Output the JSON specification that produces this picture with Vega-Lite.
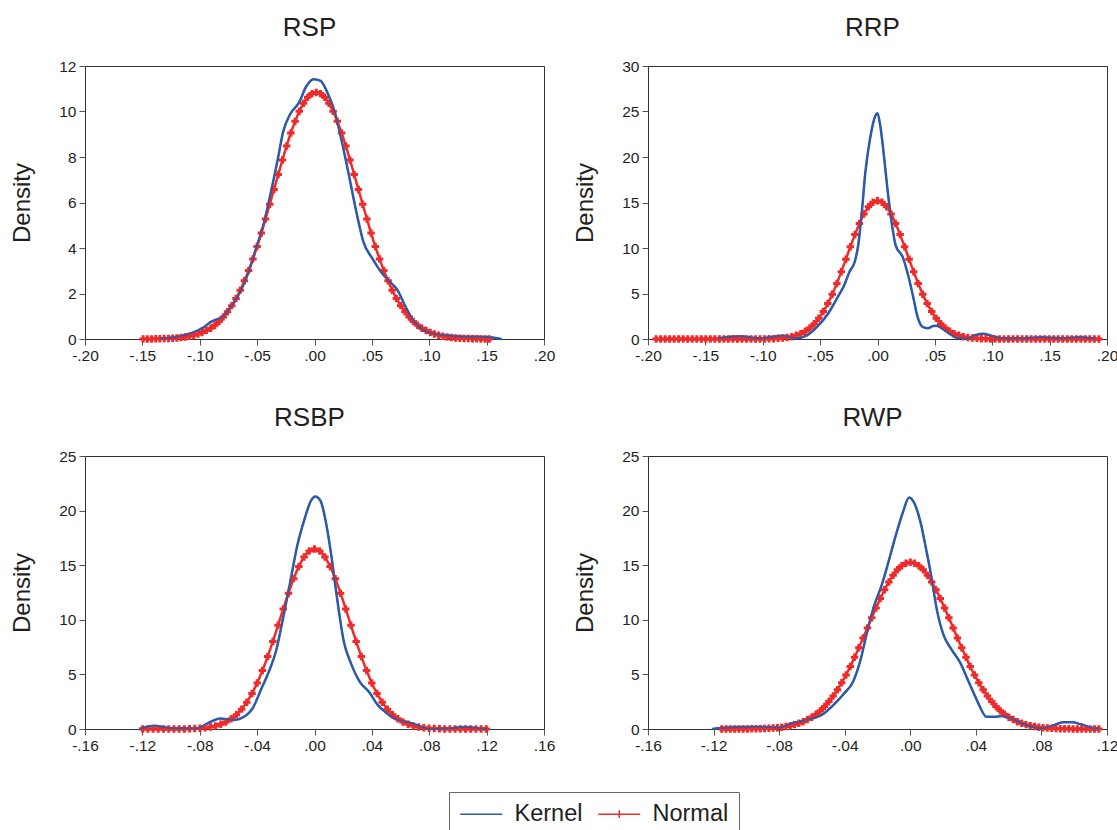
{
"$schema":"https://vega.github.io/schema/vega-lite/v6.json",
"background":"white",
"padding":{"left":10,"top":14,"right":5,"bottom":5},
"config":{
"font":"Liberation Sans",
"view":{"stroke":"#333","strokeWidth":1},
"axis":{"labelFont":"Liberation Sans","labelFontSize":15.5,"labelColor":"#231F20","titleFont":"Liberation Sans","titleFontSize":24,"titleFontWeight":"normal","titleColor":"#231F20","domainColor":"#333","tickColor":"#555","tickSize":6,"labelPadding":3,"grid":false,"labelFlush":false,"labelOverlap":false},
"axisY":{"titlePadding":24},
"title":{"font":"Liberation Sans","fontSize":26,"fontWeight":"normal","color":"#231F20","frame":"group","baseline":"alphabetic","offset":18.5,"dx":-5,"anchor":"middle"}
},
"datasets":{
"rsp":[
{"x":-0.135,"y":0.02,"s":"Kernel"},{"x":-0.12,"y":0.1,"s":"Kernel"},{"x":-0.105,"y":0.3,"s":"Kernel"},{"x":-0.097,"y":0.5,"s":"Kernel"},{"x":-0.09,"y":0.76,"s":"Kernel"},{"x":-0.087,"y":0.83,"s":"Kernel"},{"x":-0.08,"y":0.98,"s":"Kernel"},{"x":-0.074,"y":1.34,"s":"Kernel"},{"x":-0.068,"y":1.78,"s":"Kernel"},{"x":-0.062,"y":2.37,"s":"Kernel"},{"x":-0.0555,"y":3.24,"s":"Kernel"},{"x":-0.051,"y":3.97,"s":"Kernel"},{"x":-0.0446,"y":5.0,"s":"Kernel"},{"x":-0.038,"y":6.45,"s":"Kernel"},{"x":-0.032,"y":7.9,"s":"Kernel"},{"x":-0.0275,"y":9.08,"s":"Kernel"},{"x":-0.021,"y":9.9,"s":"Kernel"},{"x":-0.0134,"y":10.4,"s":"Kernel"},{"x":-0.0072,"y":11.1,"s":"Kernel"},{"x":-0.001,"y":11.42,"s":"Kernel"},{"x":0.0053,"y":11.35,"s":"Kernel"},{"x":0.0115,"y":10.8,"s":"Kernel"},{"x":0.0178,"y":9.95,"s":"Kernel"},{"x":0.024,"y":8.64,"s":"Kernel"},{"x":0.03,"y":7.2,"s":"Kernel"},{"x":0.0365,"y":5.58,"s":"Kernel"},{"x":0.0427,"y":4.26,"s":"Kernel"},{"x":0.0505,"y":3.53,"s":"Kernel"},{"x":0.058,"y":2.95,"s":"Kernel"},{"x":0.066,"y":2.5,"s":"Kernel"},{"x":0.0724,"y":2.15,"s":"Kernel"},{"x":0.0786,"y":1.49,"s":"Kernel"},{"x":0.085,"y":0.9,"s":"Kernel"},{"x":0.0927,"y":0.47,"s":"Kernel"},{"x":0.1,"y":0.28,"s":"Kernel"},{"x":0.116,"y":0.15,"s":"Kernel"},{"x":0.132,"y":0.1,"s":"Kernel"},{"x":0.15,"y":0.09,"s":"Kernel"},{"x":0.163,"y":0.0,"s":"Kernel"},
{"x":-0.1494,"y":0.002,"s":"Normal"},{"x":-0.1457,"y":0.004,"s":"Normal"},{"x":-0.142,"y":0.005,"s":"Normal"},{"x":-0.1383,"y":0.008,"s":"Normal"},{"x":-0.1347,"y":0.011,"s":"Normal"},{"x":-0.131,"y":0.017,"s":"Normal"},{"x":-0.1273,"y":0.024,"s":"Normal"},{"x":-0.1236,"y":0.033,"s":"Normal"},{"x":-0.1199,"y":0.047,"s":"Normal"},{"x":-0.1163,"y":0.065,"s":"Normal"},{"x":-0.1126,"y":0.089,"s":"Normal"},{"x":-0.1089,"y":0.12,"s":"Normal"},{"x":-0.1052,"y":0.162,"s":"Normal"},{"x":-0.1015,"y":0.215,"s":"Normal"},{"x":-0.0979,"y":0.283,"s":"Normal"},{"x":-0.0942,"y":0.369,"s":"Normal"},{"x":-0.0905,"y":0.476,"s":"Normal"},{"x":-0.0868,"y":0.608,"s":"Normal"},{"x":-0.0831,"y":0.77,"s":"Normal"},{"x":-0.0795,"y":0.964,"s":"Normal"},{"x":-0.0758,"y":1.195,"s":"Normal"},{"x":-0.0721,"y":1.467,"s":"Normal"},{"x":-0.0684,"y":1.783,"s":"Normal"},{"x":-0.0647,"y":2.145,"s":"Normal"},{"x":-0.0611,"y":2.556,"s":"Normal"},{"x":-0.0574,"y":3.014,"s":"Normal"},{"x":-0.0537,"y":3.519,"s":"Normal"},{"x":-0.05,"y":4.068,"s":"Normal"},{"x":-0.0463,"y":4.656,"s":"Normal"},{"x":-0.0427,"y":5.276,"s":"Normal"},{"x":-0.039,"y":5.919,"s":"Normal"},{"x":-0.0353,"y":6.575,"s":"Normal"},{"x":-0.0316,"y":7.23,"s":"Normal"},{"x":-0.0279,"y":7.872,"s":"Normal"},{"x":-0.0243,"y":8.485,"s":"Normal"},{"x":-0.0206,"y":9.054,"s":"Normal"},{"x":-0.0169,"y":9.566,"s":"Normal"},{"x":-0.0132,"y":10.007,"s":"Normal"},{"x":-0.0095,"y":10.363,"s":"Normal"},{"x":-0.0059,"y":10.625,"s":"Normal"},{"x":-0.0022,"y":10.786,"s":"Normal"},{"x":0.0015,"y":10.84,"s":"Normal"},{"x":0.0052,"y":10.786,"s":"Normal"},{"x":0.0089,"y":10.625,"s":"Normal"},{"x":0.0125,"y":10.363,"s":"Normal"},{"x":0.0162,"y":10.007,"s":"Normal"},{"x":0.0199,"y":9.566,"s":"Normal"},{"x":0.0236,"y":9.054,"s":"Normal"},{"x":0.0273,"y":8.485,"s":"Normal"},{"x":0.0309,"y":7.872,"s":"Normal"},{"x":0.0346,"y":7.23,"s":"Normal"},{"x":0.0383,"y":6.575,"s":"Normal"},{"x":0.042,"y":5.919,"s":"Normal"},{"x":0.0457,"y":5.276,"s":"Normal"},{"x":0.0493,"y":4.656,"s":"Normal"},{"x":0.053,"y":4.068,"s":"Normal"},{"x":0.0567,"y":3.519,"s":"Normal"},{"x":0.0604,"y":3.014,"s":"Normal"},{"x":0.0641,"y":2.556,"s":"Normal"},{"x":0.0677,"y":2.145,"s":"Normal"},{"x":0.0714,"y":1.783,"s":"Normal"},{"x":0.0751,"y":1.467,"s":"Normal"},{"x":0.0788,"y":1.195,"s":"Normal"},{"x":0.0825,"y":0.964,"s":"Normal"},{"x":0.0861,"y":0.77,"s":"Normal"},{"x":0.0898,"y":0.608,"s":"Normal"},{"x":0.0935,"y":0.476,"s":"Normal"},{"x":0.0972,"y":0.369,"s":"Normal"},{"x":0.1009,"y":0.283,"s":"Normal"},{"x":0.1045,"y":0.215,"s":"Normal"},{"x":0.1082,"y":0.162,"s":"Normal"},{"x":0.1119,"y":0.12,"s":"Normal"},{"x":0.1156,"y":0.089,"s":"Normal"},{"x":0.1193,"y":0.065,"s":"Normal"},{"x":0.1229,"y":0.047,"s":"Normal"},{"x":0.1266,"y":0.033,"s":"Normal"},{"x":0.1303,"y":0.024,"s":"Normal"},{"x":0.134,"y":0.017,"s":"Normal"},{"x":0.1377,"y":0.011,"s":"Normal"},{"x":0.1413,"y":0.008,"s":"Normal"},{"x":0.145,"y":0.005,"s":"Normal"},{"x":0.1487,"y":0.004,"s":"Normal"},{"x":0.1524,"y":0.002,"s":"Normal"}
],
"rrp":[
{"x":-0.139,"y":0.07,"s":"Kernel"},{"x":-0.121,"y":0.3,"s":"Kernel"},{"x":-0.102,"y":0.07,"s":"Kernel"},{"x":-0.082,"y":0.36,"s":"Kernel"},{"x":-0.071,"y":0.07,"s":"Kernel"},{"x":-0.062,"y":0.36,"s":"Kernel"},{"x":-0.0525,"y":1.35,"s":"Kernel"},{"x":-0.043,"y":2.8,"s":"Kernel"},{"x":-0.0354,"y":4.45,"s":"Kernel"},{"x":-0.029,"y":5.9,"s":"Kernel"},{"x":-0.0245,"y":7.37,"s":"Kernel"},{"x":-0.0199,"y":8.47,"s":"Kernel"},{"x":-0.0168,"y":10.3,"s":"Kernel"},{"x":-0.0137,"y":13.9,"s":"Kernel"},{"x":-0.0106,"y":18.3,"s":"Kernel"},{"x":-0.0065,"y":22.0,"s":"Kernel"},{"x":-0.0028,"y":24.2,"s":"Kernel"},{"x":0.0,"y":24.8,"s":"Kernel"},{"x":0.0028,"y":23.1,"s":"Kernel"},{"x":0.0059,"y":19.8,"s":"Kernel"},{"x":0.009,"y":16.1,"s":"Kernel"},{"x":0.0127,"y":12.5,"s":"Kernel"},{"x":0.0158,"y":10.3,"s":"Kernel"},{"x":0.022,"y":9.0,"s":"Kernel"},{"x":0.0267,"y":7.0,"s":"Kernel"},{"x":0.0314,"y":4.45,"s":"Kernel"},{"x":0.0345,"y":2.63,"s":"Kernel"},{"x":0.0391,"y":1.35,"s":"Kernel"},{"x":0.0438,"y":1.17,"s":"Kernel"},{"x":0.0484,"y":1.42,"s":"Kernel"},{"x":0.0516,"y":1.46,"s":"Kernel"},{"x":0.0562,"y":1.17,"s":"Kernel"},{"x":0.0624,"y":0.62,"s":"Kernel"},{"x":0.0686,"y":0.15,"s":"Kernel"},{"x":0.078,"y":0.07,"s":"Kernel"},{"x":0.0857,"y":0.44,"s":"Kernel"},{"x":0.092,"y":0.58,"s":"Kernel"},{"x":0.0997,"y":0.33,"s":"Kernel"},{"x":0.109,"y":0.07,"s":"Kernel"},{"x":0.128,"y":0.07,"s":"Kernel"},{"x":0.143,"y":0.18,"s":"Kernel"},{"x":0.159,"y":0.07,"s":"Kernel"},{"x":0.177,"y":0.2,"s":"Kernel"},{"x":0.19,"y":0.03,"s":"Kernel"},
{"x":-0.19294,"y":0,"s":"Normal"},{"x":-0.189,"y":0,"s":"Normal"},{"x":-0.18506,"y":0,"s":"Normal"},{"x":-0.18113,"y":0,"s":"Normal"},{"x":-0.17719,"y":0,"s":"Normal"},{"x":-0.17325,"y":0,"s":"Normal"},{"x":-0.16931,"y":0,"s":"Normal"},{"x":-0.16538,"y":0,"s":"Normal"},{"x":-0.16144,"y":0,"s":"Normal"},{"x":-0.1575,"y":0,"s":"Normal"},{"x":-0.15356,"y":0,"s":"Normal"},{"x":-0.14963,"y":0,"s":"Normal"},{"x":-0.14569,"y":0,"s":"Normal"},{"x":-0.14175,"y":0,"s":"Normal"},{"x":-0.13781,"y":0,"s":"Normal"},{"x":-0.13388,"y":0,"s":"Normal"},{"x":-0.12994,"y":0,"s":"Normal"},{"x":-0.126,"y":0,"s":"Normal"},{"x":-0.12206,"y":0,"s":"Normal"},{"x":-0.11813,"y":0,"s":"Normal"},{"x":-0.11419,"y":0,"s":"Normal"},{"x":-0.11025,"y":0,"s":"Normal"},{"x":-0.10631,"y":0,"s":"Normal"},{"x":-0.10238,"y":0,"s":"Normal"},{"x":-0.09844,"y":0.01,"s":"Normal"},{"x":-0.0945,"y":0.02,"s":"Normal"},{"x":-0.09056,"y":0.04,"s":"Normal"},{"x":-0.08663,"y":0.07,"s":"Normal"},{"x":-0.08269,"y":0.11,"s":"Normal"},{"x":-0.07875,"y":0.17,"s":"Normal"},{"x":-0.07481,"y":0.26,"s":"Normal"},{"x":-0.07088,"y":0.4,"s":"Normal"},{"x":-0.06694,"y":0.59,"s":"Normal"},{"x":-0.063,"y":0.85,"s":"Normal"},{"x":-0.05906,"y":1.21,"s":"Normal"},{"x":-0.05513,"y":1.68,"s":"Normal"},{"x":-0.05119,"y":2.27,"s":"Normal"},{"x":-0.04725,"y":3.01,"s":"Normal"},{"x":-0.04331,"y":3.9,"s":"Normal"},{"x":-0.03938,"y":4.93,"s":"Normal"},{"x":-0.03544,"y":6.11,"s":"Normal"},{"x":-0.0315,"y":7.4,"s":"Normal"},{"x":-0.02756,"y":8.76,"s":"Normal"},{"x":-0.02363,"y":10.14,"s":"Normal"},{"x":-0.01969,"y":11.47,"s":"Normal"},{"x":-0.01575,"y":12.7,"s":"Normal"},{"x":-0.01181,"y":13.74,"s":"Normal"},{"x":-0.00788,"y":14.53,"s":"Normal"},{"x":-0.00394,"y":15.03,"s":"Normal"},{"x":0.0,"y":15.2,"s":"Normal"},{"x":0.00394,"y":15.03,"s":"Normal"},{"x":0.00788,"y":14.53,"s":"Normal"},{"x":0.01181,"y":13.74,"s":"Normal"},{"x":0.01575,"y":12.7,"s":"Normal"},{"x":0.01969,"y":11.47,"s":"Normal"},{"x":0.02363,"y":10.14,"s":"Normal"},{"x":0.02756,"y":8.76,"s":"Normal"},{"x":0.0315,"y":7.4,"s":"Normal"},{"x":0.03544,"y":6.11,"s":"Normal"},{"x":0.03938,"y":4.93,"s":"Normal"},{"x":0.04331,"y":3.9,"s":"Normal"},{"x":0.04725,"y":3.01,"s":"Normal"},{"x":0.05119,"y":2.27,"s":"Normal"},{"x":0.05513,"y":1.68,"s":"Normal"},{"x":0.05906,"y":1.21,"s":"Normal"},{"x":0.063,"y":0.85,"s":"Normal"},{"x":0.06694,"y":0.59,"s":"Normal"},{"x":0.07088,"y":0.4,"s":"Normal"},{"x":0.07481,"y":0.26,"s":"Normal"},{"x":0.07875,"y":0.17,"s":"Normal"},{"x":0.08269,"y":0.11,"s":"Normal"},{"x":0.08663,"y":0.07,"s":"Normal"},{"x":0.09056,"y":0.04,"s":"Normal"},{"x":0.0945,"y":0.02,"s":"Normal"},{"x":0.09844,"y":0.01,"s":"Normal"},{"x":0.10238,"y":0,"s":"Normal"},{"x":0.10631,"y":0,"s":"Normal"},{"x":0.11025,"y":0,"s":"Normal"},{"x":0.11419,"y":0,"s":"Normal"},{"x":0.11813,"y":0,"s":"Normal"},{"x":0.12206,"y":0,"s":"Normal"},{"x":0.126,"y":0,"s":"Normal"},{"x":0.12994,"y":0,"s":"Normal"},{"x":0.13388,"y":0,"s":"Normal"},{"x":0.13781,"y":0,"s":"Normal"},{"x":0.14175,"y":0,"s":"Normal"},{"x":0.14569,"y":0,"s":"Normal"},{"x":0.14963,"y":0,"s":"Normal"},{"x":0.15356,"y":0,"s":"Normal"},{"x":0.1575,"y":0,"s":"Normal"},{"x":0.16144,"y":0,"s":"Normal"},{"x":0.16538,"y":0,"s":"Normal"},{"x":0.16931,"y":0,"s":"Normal"},{"x":0.17325,"y":0,"s":"Normal"},{"x":0.17719,"y":0,"s":"Normal"},{"x":0.18113,"y":0,"s":"Normal"},{"x":0.18506,"y":0,"s":"Normal"},{"x":0.189,"y":0,"s":"Normal"},{"x":0.19294,"y":0,"s":"Normal"}
],
"rsbp":[
{"x":-0.122,"y":0.0,"s":"Kernel"},{"x":-0.112,"y":0.3,"s":"Kernel"},{"x":-0.099,"y":0.06,"s":"Kernel"},{"x":-0.082,"y":0.06,"s":"Kernel"},{"x":-0.0744,"y":0.52,"s":"Kernel"},{"x":-0.0657,"y":0.97,"s":"Kernel"},{"x":-0.057,"y":0.82,"s":"Kernel"},{"x":-0.048,"y":1.22,"s":"Kernel"},{"x":-0.0432,"y":1.88,"s":"Kernel"},{"x":-0.037,"y":3.7,"s":"Kernel"},{"x":-0.032,"y":5.2,"s":"Kernel"},{"x":-0.027,"y":7.05,"s":"Kernel"},{"x":-0.022,"y":10.1,"s":"Kernel"},{"x":-0.017,"y":13.4,"s":"Kernel"},{"x":-0.012,"y":16.8,"s":"Kernel"},{"x":-0.007,"y":19.2,"s":"Kernel"},{"x":-0.0025,"y":20.9,"s":"Kernel"},{"x":0.0005,"y":21.3,"s":"Kernel"},{"x":0.0042,"y":20.9,"s":"Kernel"},{"x":0.008,"y":18.9,"s":"Kernel"},{"x":0.0117,"y":15.9,"s":"Kernel"},{"x":0.0155,"y":12.2,"s":"Kernel"},{"x":0.0205,"y":7.96,"s":"Kernel"},{"x":0.0255,"y":5.99,"s":"Kernel"},{"x":0.0317,"y":4.3,"s":"Kernel"},{"x":0.038,"y":3.4,"s":"Kernel"},{"x":0.0442,"y":2.19,"s":"Kernel"},{"x":0.0492,"y":1.58,"s":"Kernel"},{"x":0.0554,"y":0.97,"s":"Kernel"},{"x":0.0617,"y":0.73,"s":"Kernel"},{"x":0.068,"y":0.52,"s":"Kernel"},{"x":0.0741,"y":0.21,"s":"Kernel"},{"x":0.0804,"y":0.0,"s":"Kernel"},{"x":0.0929,"y":0.06,"s":"Kernel"},{"x":0.105,"y":0.18,"s":"Kernel"},{"x":0.115,"y":0.06,"s":"Kernel"},{"x":0.12,"y":0.0,"s":"Kernel"},
{"x":-0.11979,"y":0,"s":"Normal"},{"x":-0.11616,"y":0,"s":"Normal"},{"x":-0.11253,"y":0,"s":"Normal"},{"x":-0.1089,"y":0,"s":"Normal"},{"x":-0.10527,"y":0,"s":"Normal"},{"x":-0.10164,"y":0,"s":"Normal"},{"x":-0.09801,"y":0,"s":"Normal"},{"x":-0.09438,"y":0,"s":"Normal"},{"x":-0.09075,"y":0.01,"s":"Normal"},{"x":-0.08712,"y":0.03,"s":"Normal"},{"x":-0.08349,"y":0.04,"s":"Normal"},{"x":-0.07986,"y":0.07,"s":"Normal"},{"x":-0.07623,"y":0.12,"s":"Normal"},{"x":-0.0726,"y":0.18,"s":"Normal"},{"x":-0.06897,"y":0.28,"s":"Normal"},{"x":-0.06534,"y":0.43,"s":"Normal"},{"x":-0.06171,"y":0.64,"s":"Normal"},{"x":-0.05808,"y":0.93,"s":"Normal"},{"x":-0.05445,"y":1.31,"s":"Normal"},{"x":-0.05082,"y":1.82,"s":"Normal"},{"x":-0.04719,"y":2.46,"s":"Normal"},{"x":-0.04356,"y":3.26,"s":"Normal"},{"x":-0.03993,"y":4.22,"s":"Normal"},{"x":-0.0363,"y":5.35,"s":"Normal"},{"x":-0.03267,"y":6.63,"s":"Normal"},{"x":-0.02904,"y":8.02,"s":"Normal"},{"x":-0.02541,"y":9.5,"s":"Normal"},{"x":-0.02178,"y":10.99,"s":"Normal"},{"x":-0.01815,"y":12.44,"s":"Normal"},{"x":-0.01452,"y":13.77,"s":"Normal"},{"x":-0.01089,"y":14.89,"s":"Normal"},{"x":-0.00726,"y":15.75,"s":"Normal"},{"x":-0.00363,"y":16.3,"s":"Normal"},{"x":0.0,"y":16.48,"s":"Normal"},{"x":0.00363,"y":16.3,"s":"Normal"},{"x":0.00726,"y":15.75,"s":"Normal"},{"x":0.01089,"y":14.89,"s":"Normal"},{"x":0.01452,"y":13.77,"s":"Normal"},{"x":0.01815,"y":12.44,"s":"Normal"},{"x":0.02178,"y":10.99,"s":"Normal"},{"x":0.02541,"y":9.5,"s":"Normal"},{"x":0.02904,"y":8.02,"s":"Normal"},{"x":0.03267,"y":6.63,"s":"Normal"},{"x":0.0363,"y":5.35,"s":"Normal"},{"x":0.03993,"y":4.22,"s":"Normal"},{"x":0.04356,"y":3.26,"s":"Normal"},{"x":0.04719,"y":2.46,"s":"Normal"},{"x":0.05082,"y":1.82,"s":"Normal"},{"x":0.05445,"y":1.31,"s":"Normal"},{"x":0.05808,"y":0.93,"s":"Normal"},{"x":0.06171,"y":0.64,"s":"Normal"},{"x":0.06534,"y":0.43,"s":"Normal"},{"x":0.06897,"y":0.28,"s":"Normal"},{"x":0.0726,"y":0.18,"s":"Normal"},{"x":0.07623,"y":0.12,"s":"Normal"},{"x":0.07986,"y":0.07,"s":"Normal"},{"x":0.08349,"y":0.04,"s":"Normal"},{"x":0.08712,"y":0.03,"s":"Normal"},{"x":0.09075,"y":0.01,"s":"Normal"},{"x":0.09438,"y":0,"s":"Normal"},{"x":0.09801,"y":0,"s":"Normal"},{"x":0.10164,"y":0,"s":"Normal"},{"x":0.10527,"y":0,"s":"Normal"},{"x":0.1089,"y":0,"s":"Normal"},{"x":0.11253,"y":0,"s":"Normal"},{"x":0.11616,"y":0,"s":"Normal"},{"x":0.11979,"y":0,"s":"Normal"}
],
"rwp":[
{"x":-0.121,"y":0.0,"s":"Kernel"},{"x":-0.1046,"y":0.18,"s":"Kernel"},{"x":-0.0915,"y":0.18,"s":"Kernel"},{"x":-0.0807,"y":0.12,"s":"Kernel"},{"x":-0.072,"y":0.52,"s":"Kernel"},{"x":-0.0633,"y":0.82,"s":"Kernel"},{"x":-0.0535,"y":1.34,"s":"Kernel"},{"x":-0.0459,"y":2.34,"s":"Kernel"},{"x":-0.0404,"y":3.25,"s":"Kernel"},{"x":-0.035,"y":4.3,"s":"Kernel"},{"x":-0.0307,"y":6.14,"s":"Kernel"},{"x":-0.0263,"y":8.9,"s":"Kernel"},{"x":-0.022,"y":11.3,"s":"Kernel"},{"x":-0.0176,"y":13.1,"s":"Kernel"},{"x":-0.0133,"y":15.3,"s":"Kernel"},{"x":-0.0089,"y":17.7,"s":"Kernel"},{"x":-0.0046,"y":19.8,"s":"Kernel"},{"x":-0.0007,"y":21.2,"s":"Kernel"},{"x":0.0024,"y":20.7,"s":"Kernel"},{"x":0.0063,"y":18.9,"s":"Kernel"},{"x":0.0096,"y":16.5,"s":"Kernel"},{"x":0.0128,"y":14.0,"s":"Kernel"},{"x":0.0161,"y":11.0,"s":"Kernel"},{"x":0.0204,"y":8.57,"s":"Kernel"},{"x":0.0248,"y":7.36,"s":"Kernel"},{"x":0.0302,"y":6.14,"s":"Kernel"},{"x":0.0357,"y":4.3,"s":"Kernel"},{"x":0.0411,"y":2.49,"s":"Kernel"},{"x":0.0465,"y":1.12,"s":"Kernel"},{"x":0.0509,"y":1.12,"s":"Kernel"},{"x":0.0563,"y":1.19,"s":"Kernel"},{"x":0.0617,"y":0.97,"s":"Kernel"},{"x":0.0672,"y":0.58,"s":"Kernel"},{"x":0.0737,"y":0.21,"s":"Kernel"},{"x":0.0802,"y":0.06,"s":"Kernel"},{"x":0.0867,"y":0.3,"s":"Kernel"},{"x":0.0933,"y":0.61,"s":"Kernel"},{"x":0.0987,"y":0.61,"s":"Kernel"},{"x":0.104,"y":0.43,"s":"Kernel"},{"x":0.1107,"y":0.12,"s":"Kernel"},{"x":0.115,"y":0.03,"s":"Kernel"},
{"x":-0.11502,"y":0,"s":"Normal"},{"x":-0.1124,"y":0,"s":"Normal"},{"x":-0.10979,"y":0,"s":"Normal"},{"x":-0.10717,"y":0,"s":"Normal"},{"x":-0.10456,"y":0.01,"s":"Normal"},{"x":-0.10195,"y":0.01,"s":"Normal"},{"x":-0.09933,"y":0.01,"s":"Normal"},{"x":-0.09672,"y":0.02,"s":"Normal"},{"x":-0.0941,"y":0.02,"s":"Normal"},{"x":-0.09149,"y":0.03,"s":"Normal"},{"x":-0.08888,"y":0.05,"s":"Normal"},{"x":-0.08626,"y":0.07,"s":"Normal"},{"x":-0.08365,"y":0.09,"s":"Normal"},{"x":-0.08103,"y":0.12,"s":"Normal"},{"x":-0.07842,"y":0.17,"s":"Normal"},{"x":-0.07581,"y":0.23,"s":"Normal"},{"x":-0.07319,"y":0.3,"s":"Normal"},{"x":-0.07058,"y":0.4,"s":"Normal"},{"x":-0.06796,"y":0.52,"s":"Normal"},{"x":-0.06535,"y":0.67,"s":"Normal"},{"x":-0.06274,"y":0.86,"s":"Normal"},{"x":-0.06012,"y":1.08,"s":"Normal"},{"x":-0.05751,"y":1.36,"s":"Normal"},{"x":-0.05489,"y":1.68,"s":"Normal"},{"x":-0.05228,"y":2.07,"s":"Normal"},{"x":-0.04967,"y":2.51,"s":"Normal"},{"x":-0.04705,"y":3.02,"s":"Normal"},{"x":-0.04444,"y":3.6,"s":"Normal"},{"x":-0.04182,"y":4.24,"s":"Normal"},{"x":-0.03921,"y":4.95,"s":"Normal"},{"x":-0.0366,"y":5.73,"s":"Normal"},{"x":-0.03398,"y":6.56,"s":"Normal"},{"x":-0.03137,"y":7.43,"s":"Normal"},{"x":-0.02875,"y":8.33,"s":"Normal"},{"x":-0.02614,"y":9.26,"s":"Normal"},{"x":-0.02353,"y":10.18,"s":"Normal"},{"x":-0.02091,"y":11.08,"s":"Normal"},{"x":-0.0183,"y":11.94,"s":"Normal"},{"x":-0.01568,"y":12.75,"s":"Normal"},{"x":-0.01307,"y":13.47,"s":"Normal"},{"x":-0.01046,"y":14.09,"s":"Normal"},{"x":-0.00784,"y":14.59,"s":"Normal"},{"x":-0.00523,"y":14.96,"s":"Normal"},{"x":-0.00261,"y":15.18,"s":"Normal"},{"x":0.0,"y":15.26,"s":"Normal"},{"x":0.00261,"y":15.18,"s":"Normal"},{"x":0.00523,"y":14.96,"s":"Normal"},{"x":0.00784,"y":14.59,"s":"Normal"},{"x":0.01046,"y":14.09,"s":"Normal"},{"x":0.01307,"y":13.47,"s":"Normal"},{"x":0.01568,"y":12.75,"s":"Normal"},{"x":0.0183,"y":11.94,"s":"Normal"},{"x":0.02091,"y":11.08,"s":"Normal"},{"x":0.02353,"y":10.18,"s":"Normal"},{"x":0.02614,"y":9.26,"s":"Normal"},{"x":0.02875,"y":8.33,"s":"Normal"},{"x":0.03137,"y":7.43,"s":"Normal"},{"x":0.03398,"y":6.56,"s":"Normal"},{"x":0.0366,"y":5.73,"s":"Normal"},{"x":0.03921,"y":4.95,"s":"Normal"},{"x":0.04182,"y":4.24,"s":"Normal"},{"x":0.04444,"y":3.6,"s":"Normal"},{"x":0.04705,"y":3.02,"s":"Normal"},{"x":0.04967,"y":2.51,"s":"Normal"},{"x":0.05228,"y":2.07,"s":"Normal"},{"x":0.05489,"y":1.68,"s":"Normal"},{"x":0.05751,"y":1.36,"s":"Normal"},{"x":0.06012,"y":1.08,"s":"Normal"},{"x":0.06274,"y":0.86,"s":"Normal"},{"x":0.06535,"y":0.67,"s":"Normal"},{"x":0.06796,"y":0.52,"s":"Normal"},{"x":0.07058,"y":0.4,"s":"Normal"},{"x":0.07319,"y":0.3,"s":"Normal"},{"x":0.07581,"y":0.23,"s":"Normal"},{"x":0.07842,"y":0.17,"s":"Normal"},{"x":0.08103,"y":0.12,"s":"Normal"},{"x":0.08365,"y":0.09,"s":"Normal"},{"x":0.08626,"y":0.07,"s":"Normal"},{"x":0.08888,"y":0.05,"s":"Normal"},{"x":0.09149,"y":0.03,"s":"Normal"},{"x":0.0941,"y":0.02,"s":"Normal"},{"x":0.09672,"y":0.02,"s":"Normal"},{"x":0.09933,"y":0.01,"s":"Normal"},{"x":0.10195,"y":0.01,"s":"Normal"},{"x":0.10456,"y":0.01,"s":"Normal"},{"x":0.10717,"y":0,"s":"Normal"},{"x":0.10979,"y":0,"s":"Normal"},{"x":0.1124,"y":0,"s":"Normal"},{"x":0.11502,"y":0,"s":"Normal"}
]
},
"columns":2,
"spacing":{"row":117,"column":104},
"bounds":"flush",
"resolve":{"scale":{"x":"independent","y":"independent","color":"shared"}},
"concat":[
{"title":"RSP","width":459,"height":273,"data":{"name":"rsp"},
"layer":[
{"mark":{"type":"line","strokeWidth":2.5,"interpolate":"monotone"},
"encoding":{
"x":{"field":"x","type":"quantitative","title":null,"scale":{"domain":[-0.2,0.2],"nice":false,"zero":false},"axis":{"values":[-0.2,-0.15,-0.1,-0.05,0,0.05,0.1,0.15,0.2],"labelExpr":"replace(replace(format(datum.value,'.2f'),'0.','.'),'\u2212','-')"}},
"y":{"field":"y","type":"quantitative","title":"Density","scale":{"domain":[0,12],"nice":false},"axis":{"values":[0,2,4,6,8,10,12]}},
"color":{"field":"s","type":"nominal","scale":{"domain":["Kernel","Normal"],"range":["#2B5BAA","#EE2B2B"]},"legend":{"orient":"none","legendX":364,"legendY":726,"direction":"horizontal","title":null,"labelFontSize":23.5,"labelFont":"Liberation Sans","labelColor":"#231F20","symbolType":"stroke","symbolSize":441,"symbolStrokeWidth":1.5,"labelOffset":32,"columnPadding":12,"padding":10,"strokeColor":"#666","fillColor":"white","encode":{"symbols":{"update":{"shape":{"signal":"datum.value === 'Normal' ? 'M-1,0H3M1,-0.36V0.36' : 'M-1,0H3'"}}}}}}}},
{"transform":[{"filter":"datum.s === 'Normal'"}],"mark":{"type":"point","shape":"M-1,0H1M0,-1V1","size":56,"filled":false,"stroke":"#EE2B2B","strokeWidth":3,"opacity":1},
"encoding":{"x":{"field":"x","type":"quantitative"},"y":{"field":"y","type":"quantitative"}}},
{"transform":[{"filter":"datum.s === 'Kernel'"}],"mark":{"type":"line","color":"#2B5BAA","strokeWidth":1.5,"interpolate":"monotone"},
"encoding":{"x":{"field":"x","type":"quantitative"},"y":{"field":"y","type":"quantitative"}}}
]},
{"title":"RRP","width":459,"height":273,"data":{"name":"rrp"},
"layer":[
{"mark":{"type":"line","strokeWidth":2.5,"interpolate":"monotone"},
"encoding":{
"x":{"field":"x","type":"quantitative","title":null,"scale":{"domain":[-0.2,0.2],"nice":false,"zero":false},"axis":{"values":[-0.2,-0.15,-0.1,-0.05,0,0.05,0.1,0.15,0.2],"labelExpr":"replace(replace(format(datum.value,'.2f'),'0.','.'),'\u2212','-')"}},
"y":{"field":"y","type":"quantitative","title":"Density","scale":{"domain":[0,30],"nice":false},"axis":{"values":[0,5,10,15,20,25,30]}},
"color":{"field":"s","type":"nominal","scale":{"domain":["Kernel","Normal"],"range":["#2B5BAA","#EE2B2B"]},"legend":{"orient":"none","legendX":364,"legendY":726,"direction":"horizontal","title":null,"labelFontSize":23.5,"labelFont":"Liberation Sans","labelColor":"#231F20","symbolType":"stroke","symbolSize":441,"symbolStrokeWidth":1.5,"labelOffset":32,"columnPadding":12,"padding":10,"strokeColor":"#666","fillColor":"white","encode":{"symbols":{"update":{"shape":{"signal":"datum.value === 'Normal' ? 'M-1,0H3M1,-0.36V0.36' : 'M-1,0H3'"}}}}}}}},
{"transform":[{"filter":"datum.s === 'Normal'"}],"mark":{"type":"point","shape":"M-1,0H1M0,-1V1","size":56,"filled":false,"stroke":"#EE2B2B","strokeWidth":3,"opacity":1},
"encoding":{"x":{"field":"x","type":"quantitative"},"y":{"field":"y","type":"quantitative"}}},
{"transform":[{"filter":"datum.s === 'Kernel'"}],"mark":{"type":"line","color":"#2B5BAA","strokeWidth":1.5,"interpolate":"monotone"},
"encoding":{"x":{"field":"x","type":"quantitative"},"y":{"field":"y","type":"quantitative"}}}
]},
{"title":"RSBP","width":459,"height":273,"data":{"name":"rsbp"},
"layer":[
{"mark":{"type":"line","strokeWidth":2.5,"interpolate":"monotone"},
"encoding":{
"x":{"field":"x","type":"quantitative","title":null,"scale":{"domain":[-0.16,0.16],"nice":false,"zero":false},"axis":{"values":[-0.16,-0.12,-0.08,-0.04,0,0.04,0.08,0.12,0.16],"labelExpr":"replace(replace(format(datum.value,'.2f'),'0.','.'),'\u2212','-')"}},
"y":{"field":"y","type":"quantitative","title":"Density","scale":{"domain":[0,25],"nice":false},"axis":{"values":[0,5,10,15,20,25]}},
"color":{"field":"s","type":"nominal","scale":{"domain":["Kernel","Normal"],"range":["#2B5BAA","#EE2B2B"]},"legend":{"orient":"none","legendX":364,"legendY":726,"direction":"horizontal","title":null,"labelFontSize":23.5,"labelFont":"Liberation Sans","labelColor":"#231F20","symbolType":"stroke","symbolSize":441,"symbolStrokeWidth":1.5,"labelOffset":32,"columnPadding":12,"padding":10,"strokeColor":"#666","fillColor":"white","encode":{"symbols":{"update":{"shape":{"signal":"datum.value === 'Normal' ? 'M-1,0H3M1,-0.36V0.36' : 'M-1,0H3'"}}}}}}}},
{"transform":[{"filter":"datum.s === 'Normal'"}],"mark":{"type":"point","shape":"M-1,0H1M0,-1V1","size":56,"filled":false,"stroke":"#EE2B2B","strokeWidth":3,"opacity":1},
"encoding":{"x":{"field":"x","type":"quantitative"},"y":{"field":"y","type":"quantitative"}}},
{"transform":[{"filter":"datum.s === 'Kernel'"}],"mark":{"type":"line","color":"#2B5BAA","strokeWidth":1.5,"interpolate":"monotone"},
"encoding":{"x":{"field":"x","type":"quantitative"},"y":{"field":"y","type":"quantitative"}}}
]},
{"title":"RWP","width":459,"height":273,"data":{"name":"rwp"},
"layer":[
{"mark":{"type":"line","strokeWidth":2.5,"interpolate":"monotone"},
"encoding":{
"x":{"field":"x","type":"quantitative","title":null,"scale":{"domain":[-0.16,0.12],"nice":false,"zero":false},"axis":{"values":[-0.16,-0.12,-0.08,-0.04,0,0.04,0.08,0.12],"labelExpr":"replace(replace(format(datum.value,'.2f'),'0.','.'),'\u2212','-')"}},
"y":{"field":"y","type":"quantitative","title":"Density","scale":{"domain":[0,25],"nice":false},"axis":{"values":[0,5,10,15,20,25]}},
"color":{"field":"s","type":"nominal","scale":{"domain":["Kernel","Normal"],"range":["#2B5BAA","#EE2B2B"]},"legend":{"orient":"none","legendX":364,"legendY":726,"direction":"horizontal","title":null,"labelFontSize":23.5,"labelFont":"Liberation Sans","labelColor":"#231F20","symbolType":"stroke","symbolSize":441,"symbolStrokeWidth":1.5,"labelOffset":32,"columnPadding":12,"padding":10,"strokeColor":"#666","fillColor":"white","encode":{"symbols":{"update":{"shape":{"signal":"datum.value === 'Normal' ? 'M-1,0H3M1,-0.36V0.36' : 'M-1,0H3'"}}}}}}}},
{"transform":[{"filter":"datum.s === 'Normal'"}],"mark":{"type":"point","shape":"M-1,0H1M0,-1V1","size":56,"filled":false,"stroke":"#EE2B2B","strokeWidth":3,"opacity":1},
"encoding":{"x":{"field":"x","type":"quantitative"},"y":{"field":"y","type":"quantitative"}}},
{"transform":[{"filter":"datum.s === 'Kernel'"}],"mark":{"type":"line","color":"#2B5BAA","strokeWidth":1.5,"interpolate":"monotone"},
"encoding":{"x":{"field":"x","type":"quantitative"},"y":{"field":"y","type":"quantitative"}}}
]}
]
}
